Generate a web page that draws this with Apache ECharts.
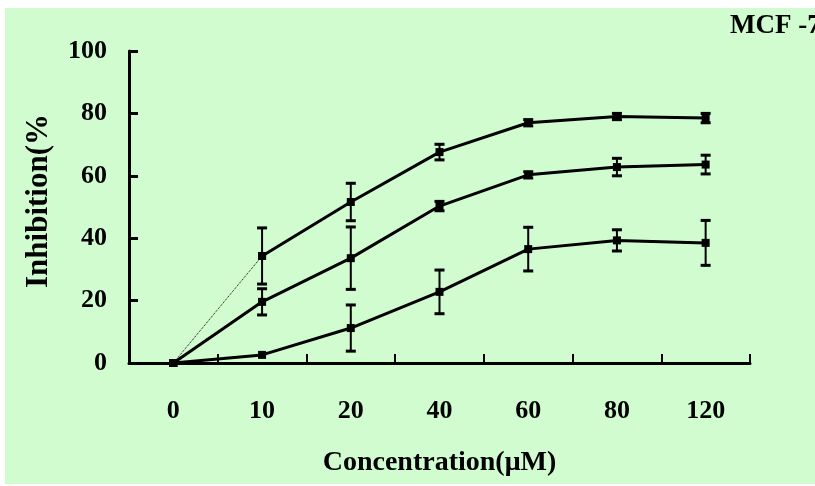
<!DOCTYPE html>
<html>
<head>
<meta charset="utf-8">
<script src="https://cdn.jsdelivr.net/npm/echarts@6/dist/echarts.min.js"></script>
<style>
  html, body { margin: 0; padding: 0; background: #fff; }
  #chart { width: 815px; height: 486px; }
</style>
</head>
<body>
<div id="chart"></div>
<script>
  const concentrations = ['0', '10', '20', '40', '60', '80', '120'];
  // three inhibition curves, top to bottom
  const highValues = [0, 34.3, 51.6, 67.6, 77, 79, 78.5];
  const highErr = [0, 9, 6, 2.5, 1, 1, 1.5];
  const midValues = [0, 19.6, 33.6, 50.3, 60.3, 62.8, 63.6];
  const midErr = [0, 4.2, 10, 1.5, 1, 2.8, 3];
  const lowValues = [0, 2.6, 11.2, 22.8, 36.5, 39.3, 38.5];
  const lowErr = [0, 0, 7.4, 7, 7, 3.4, 7.2];

  const serif = '"Liberation Serif", "Times New Roman", serif';
  const chart = echarts.init(document.getElementById('chart'));

  function errorBars(values, errs) {
    return {
      type: 'custom',
      z: 3,
      silent: true,
      data: values.map((v, i) => [i, v, errs[i]]),
      encode: { x: 0, y: 1 },
      renderItem: function(params, api) {
        const i = api.value(0);
        const v = api.value(1);
        const e = api.value(2);
        if (!e) return null;
        const hi = api.coord([i, v + e]);
        const lo = api.coord([i, v - e]);
        const cap = 5;
        const capStyle = { stroke: '#000', lineWidth: 3 };
        return {
          type: 'group',
          children: [
            { type: 'line', shape: { x1: hi[0], y1: hi[1], x2: lo[0], y2: lo[1] }, style: { stroke: '#000', lineWidth: 2 } },
            { type: 'line', shape: { x1: hi[0] - cap, y1: hi[1], x2: hi[0] + cap, y2: hi[1] }, style: capStyle },
            { type: 'line', shape: { x1: lo[0] - cap, y1: lo[1], x2: lo[0] + cap, y2: lo[1] }, style: capStyle }
          ]
        };
      }
    };
  }

  function curve(data, width, type, symbolSize) {
    return {
      type: 'line',
      data: data,
      symbol: 'rect',
      symbolSize: symbolSize,
      showSymbol: true,
      z: 4,
      itemStyle: { color: '#000' },
      lineStyle: { color: '#000', width: width, type: type }
    };
  }

  const option = {
    animation: false,
    backgroundColor: '#ffffff',
    graphic: [
      {
        type: 'rect',
        z: -10,
        shape: { x: 5, y: 8, width: 810, height: 476 },
        style: { fill: '#d0fcd0' }
      },
      {
        type: 'text',
        left: 730,
        top: 13,
        style: { text: 'MCF -7', font: 'bold 27px ' + serif, fill: '#000' }
      }
    ],
    grid: { left: 129, right: 65, top: 51, bottom: 123 },
    xAxis: {
      type: 'category',
      data: concentrations,
      boundaryGap: true,
      name: 'Concentration(μM)',
      nameLocation: 'middle',
      nameGap: 86,
      nameTextStyle: { fontFamily: serif, fontWeight: 'bold', fontSize: 28, color: '#000' },
      axisLine: { show: true, lineStyle: { color: '#000', width: 3 } },
      axisTick: { show: true, inside: true, length: 9, interval: 0, lineStyle: { color: '#000', width: 2 } },
      axisLabel: { margin: 35, fontFamily: serif, fontWeight: 'bold', fontSize: 26, color: '#000' },
      splitLine: { show: false }
    },
    yAxis: {
      type: 'value',
      min: 0,
      max: 100,
      interval: 20,
      name: 'Inhibition(%',
      nameLocation: 'middle',
      nameRotate: 90,
      nameGap: 75,
      nameTextStyle: { fontFamily: serif, fontWeight: 'bold', fontSize: 31, color: '#000', padding: [0, 0, 0, 12] },
      axisLine: { show: true, lineStyle: { color: '#000', width: 3 } },
      axisTick: { show: true, inside: true, length: 9, lineStyle: { color: '#000', width: 3 } },
      axisLabel: { margin: 22, fontFamily: serif, fontWeight: 'bold', fontSize: 26, color: '#000' },
      splitLine: { show: false }
    },
    series: [
      // first segment of the top curve is a thin dotted line
      curve(highValues.map((v, i) => (i <= 1 ? v : '-')), 1, 'dotted', 8),
      curve(highValues.map((v, i) => (i >= 1 ? v : '-')), 3, 'solid', 8),
      curve(midValues, 3, 'solid', 8),
      curve(lowValues, 3, 'solid', 8),
      errorBars(highValues, highErr),
      errorBars(midValues, midErr),
      errorBars(lowValues, lowErr)
    ]
  };

  chart.setOption(option);
  window.addEventListener('resize', () => chart.resize());
</script>
</body>
</html>
